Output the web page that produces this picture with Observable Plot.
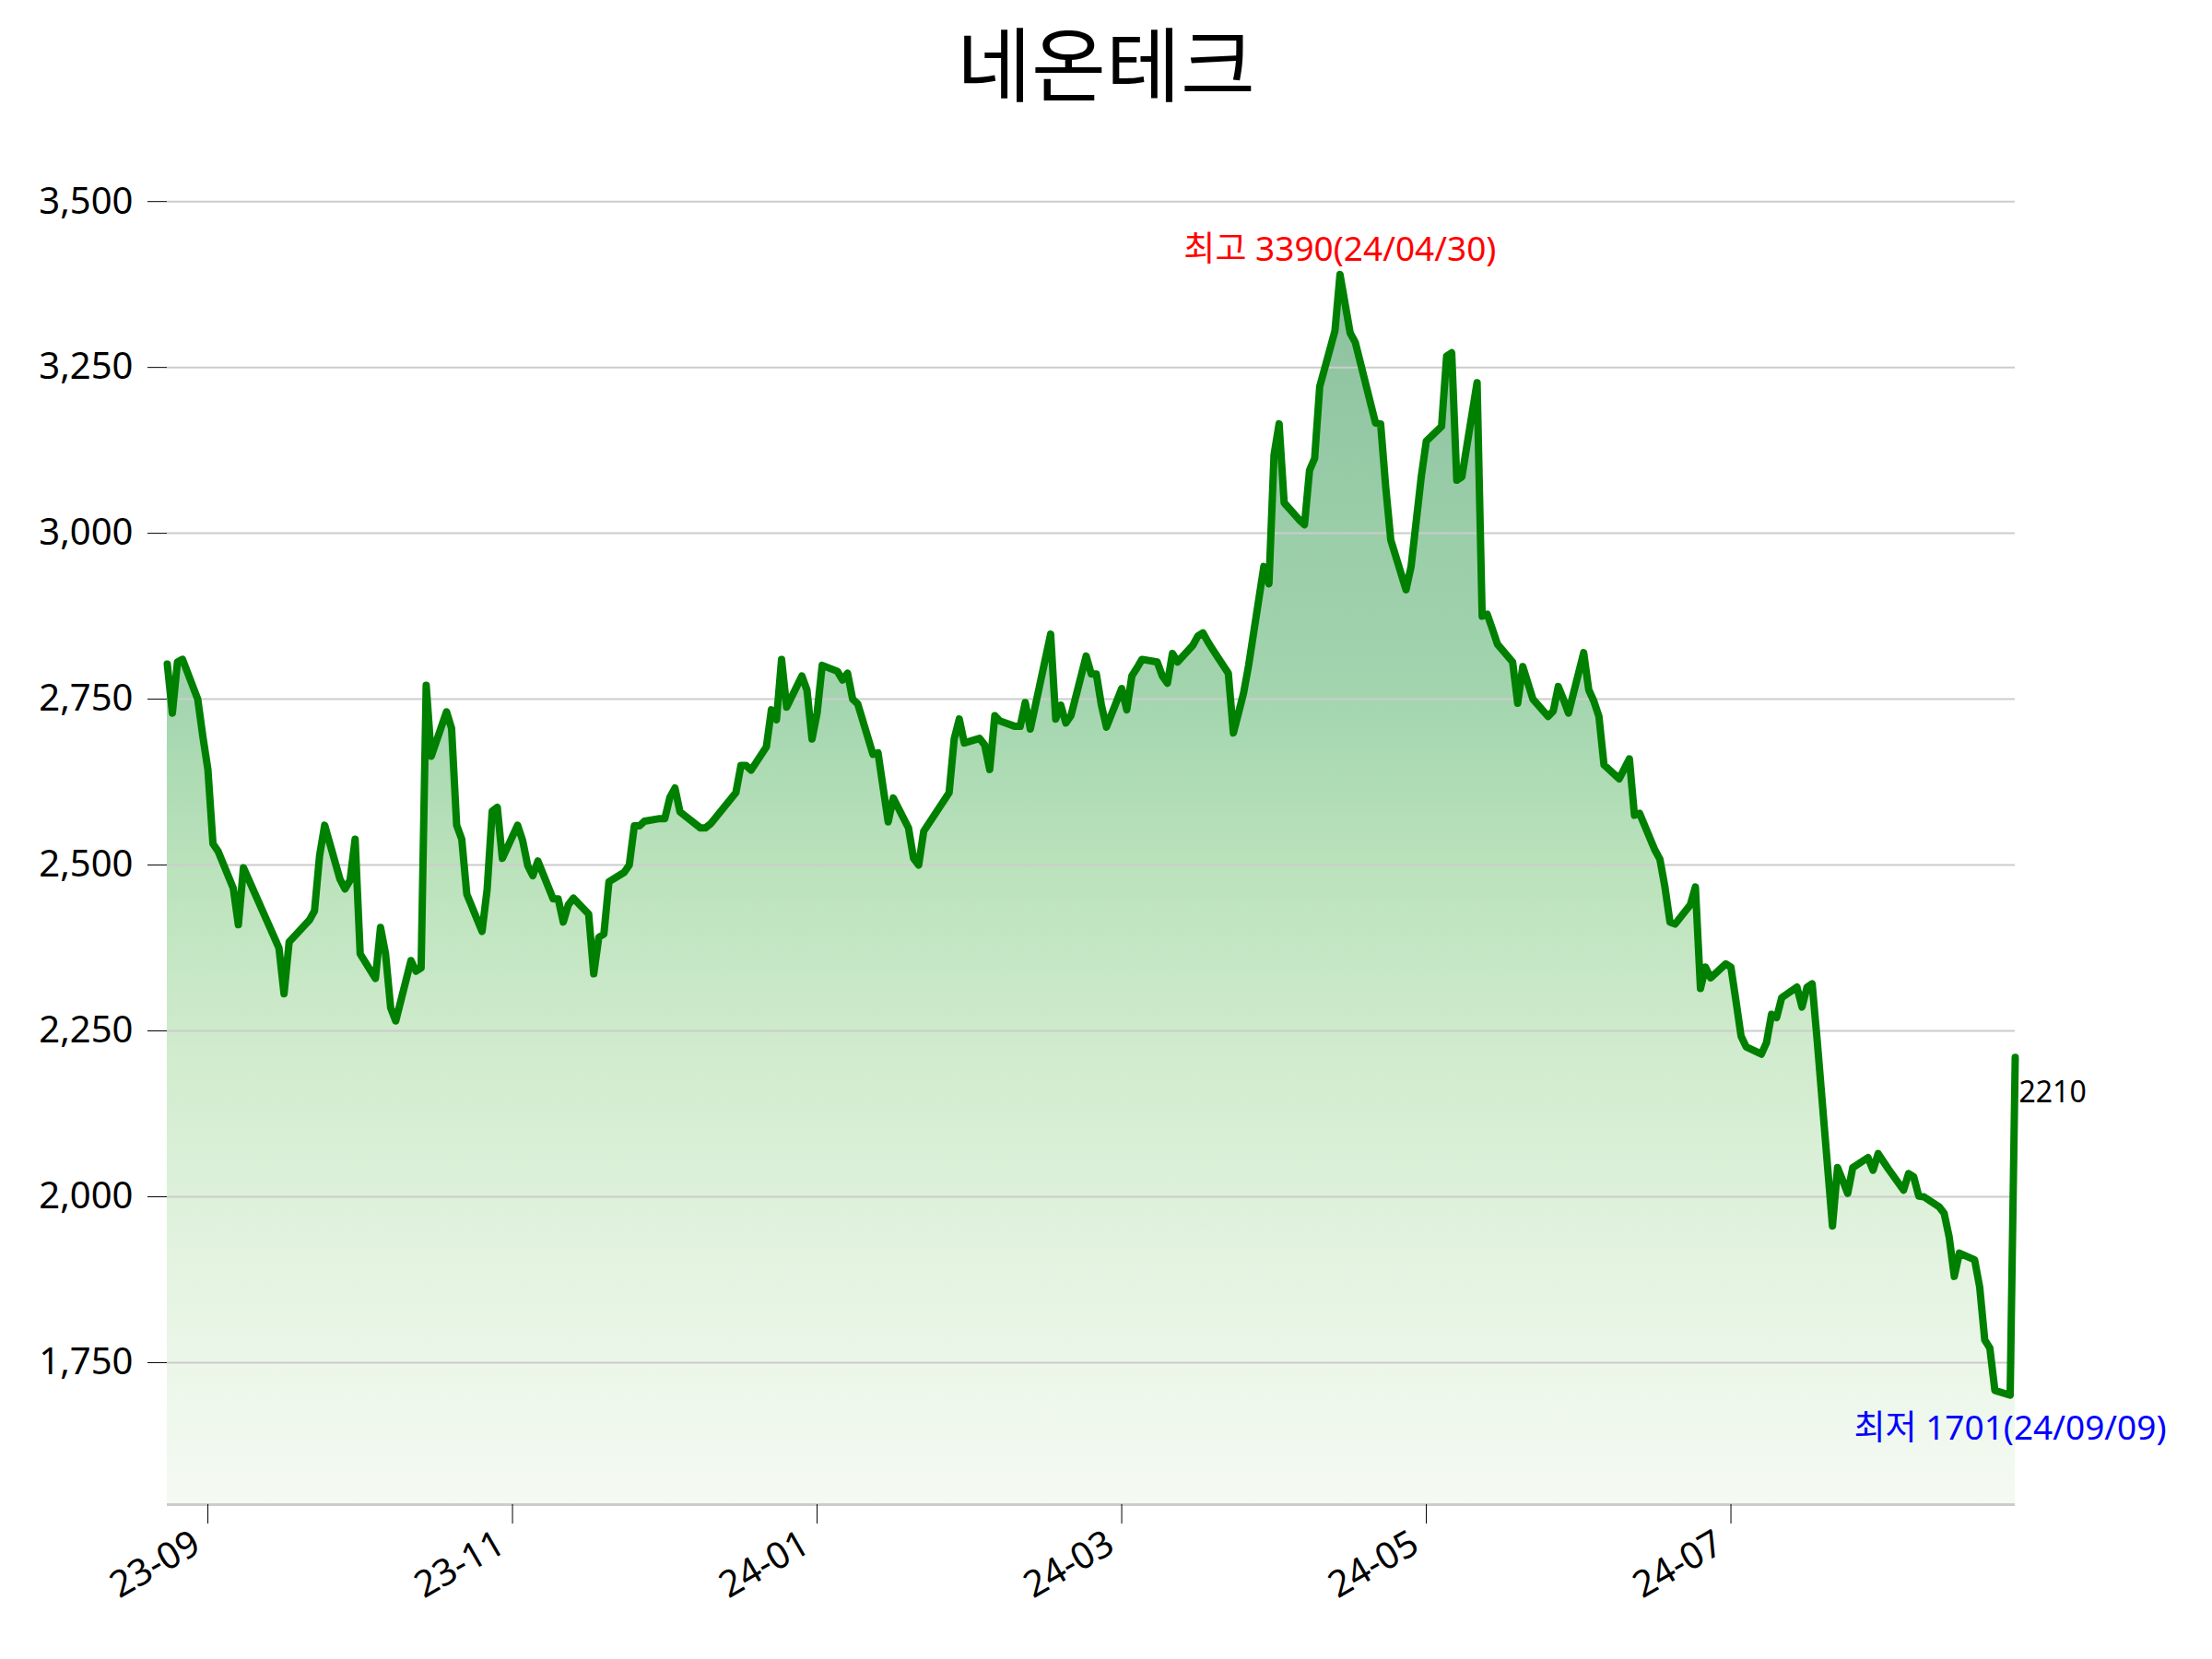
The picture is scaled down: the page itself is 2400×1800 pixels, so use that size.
<!DOCTYPE html>
<html>
<head>
<meta charset="utf-8">
<script src="https://cdn.jsdelivr.net/npm/d3@7"></script>
<script src="https://cdn.jsdelivr.net/npm/@observablehq/plot@0.6"></script>
<style>
html, body { margin: 0; padding: 0; background: #ffffff; }
#wrap { width: 2400px; height: 1800px; position: relative; font-family: "Noto Sans", "Noto Sans CJK KR", sans-serif; }
#title { height: 138px; line-height: 138px; text-align: center; font-size: 88px; color: #000; }
</style>
</head>
<body>
<div id="wrap">
  <div id="title"></div>
  <div id="chart"></div>
</div>
<script>
const chartTitle = "네온테크";

const dates = [
"2023-09-12","2023-09-13","2023-09-14","2023-09-15","2023-09-18","2023-09-19","2023-09-20","2023-09-21","2023-09-22",
"2023-09-25","2023-09-26","2023-09-27","2023-10-04","2023-10-05","2023-10-06","2023-10-10","2023-10-11","2023-10-12",
"2023-10-13","2023-10-16","2023-10-17","2023-10-18","2023-10-19","2023-10-20","2023-10-23","2023-10-24","2023-10-25",
"2023-10-26","2023-10-27","2023-10-30","2023-10-31","2023-11-01","2023-11-02","2023-11-03","2023-11-06","2023-11-07",
"2023-11-08","2023-11-09","2023-11-10","2023-11-13","2023-11-14","2023-11-15","2023-11-16","2023-11-17","2023-11-20",
"2023-11-21","2023-11-22","2023-11-23","2023-11-24","2023-11-27","2023-11-28","2023-11-29","2023-11-30","2023-12-01",
"2023-12-04","2023-12-05","2023-12-06","2023-12-07","2023-12-08","2023-12-11","2023-12-12","2023-12-13","2023-12-14",
"2023-12-15","2023-12-18","2023-12-19","2023-12-20","2023-12-21","2023-12-22","2023-12-26","2023-12-27","2023-12-28",
"2024-01-02","2024-01-03","2024-01-04","2024-01-05","2024-01-08","2024-01-09","2024-01-10","2024-01-11","2024-01-12",
"2024-01-15","2024-01-16","2024-01-17","2024-01-18","2024-01-19","2024-01-22","2024-01-23","2024-01-24","2024-01-25",
"2024-01-26","2024-01-29","2024-01-30","2024-01-31","2024-02-01","2024-02-02","2024-02-05","2024-02-06","2024-02-07",
"2024-02-08","2024-02-13","2024-02-14","2024-02-15","2024-02-16","2024-02-19","2024-02-20","2024-02-21","2024-02-22",
"2024-02-23","2024-02-26","2024-02-27","2024-02-28","2024-02-29","2024-03-04","2024-03-05","2024-03-06","2024-03-07",
"2024-03-08","2024-03-11","2024-03-12","2024-03-13","2024-03-14","2024-03-15","2024-03-18","2024-03-19","2024-03-20",
"2024-03-21","2024-03-22","2024-03-25","2024-03-26","2024-03-27","2024-03-28","2024-03-29","2024-04-01","2024-04-02",
"2024-04-03","2024-04-04","2024-04-05","2024-04-08","2024-04-09","2024-04-11","2024-04-12","2024-04-15","2024-04-16",
"2024-04-17","2024-04-18","2024-04-19","2024-04-22","2024-04-23","2024-04-24","2024-04-25","2024-04-26","2024-04-29",
"2024-04-30","2024-05-02","2024-05-03","2024-05-07","2024-05-08","2024-05-09","2024-05-10","2024-05-13","2024-05-14",
"2024-05-16","2024-05-17","2024-05-20","2024-05-21","2024-05-22","2024-05-23","2024-05-24","2024-05-27","2024-05-28",
"2024-05-29","2024-05-30","2024-05-31","2024-06-03","2024-06-04","2024-06-05","2024-06-07","2024-06-10","2024-06-11",
"2024-06-12","2024-06-13","2024-06-14","2024-06-17","2024-06-18","2024-06-19","2024-06-20","2024-06-21","2024-06-24",
"2024-06-25","2024-06-26","2024-06-27","2024-06-28","2024-07-01","2024-07-02","2024-07-03","2024-07-04","2024-07-05",
"2024-07-08","2024-07-09","2024-07-10","2024-07-11","2024-07-12","2024-07-15","2024-07-16","2024-07-17","2024-07-18",
"2024-07-19","2024-07-22","2024-07-23","2024-07-24","2024-07-25","2024-07-26","2024-07-29","2024-07-30","2024-07-31",
"2024-08-01","2024-08-02","2024-08-05","2024-08-06","2024-08-07","2024-08-08","2024-08-09","2024-08-12","2024-08-13",
"2024-08-14","2024-08-16","2024-08-19","2024-08-20","2024-08-21","2024-08-22","2024-08-23","2024-08-26","2024-08-27",
"2024-08-28","2024-08-29","2024-08-30","2024-09-02","2024-09-03","2024-09-04","2024-09-05","2024-09-06","2024-09-09",
"2024-09-10"
];

const closes = [
2803,2729,2806,2810,2750,2694,2644,2532,2521,
2465,2410,2496,2375,2306,2384,2417,2431,2514,
2560,2479,2464,2477,2539,2366,2329,2406,2366,
2285,2265,2356,2340,2345,2771,2664,2731,2706,
2560,2539,2456,2400,2463,2581,2587,2510,2560,
2537,2499,2484,2506,2449,2449,2414,2440,2450,
2426,2336,2391,2396,2475,2489,2500,2559,2559,
2566,2570,2570,2602,2616,2580,2556,2556,2562,
2609,2650,2650,2643,2678,2734,2719,2810,2738,
2785,2764,2690,2729,2801,2792,2779,2789,2750,
2743,2667,2669,2617,2565,2601,2556,2510,2500,
2551,2609,2690,2720,2684,2691,2681,2644,2725,
2717,2709,2709,2745,2705,2848,2720,2741,2714,
2725,2815,2788,2788,2741,2708,2766,2734,2785,
2797,2810,2806,2785,2774,2819,2806,2831,2845,
2850,2836,2824,2789,2699,2759,2801,2950,2924,
3118,3165,3046,3020,3013,3095,3113,3221,3305,
3390,3302,3288,3166,3165,3070,2990,2915,2950,
3085,3139,3161,3267,3272,3080,3085,3227,2875,
2878,2856,2833,2806,2744,2799,2750,2724,2732,
2769,2750,2729,2820,2764,2747,2724,2651,2630,
2645,2660,2575,2578,2523,2509,2467,2414,2411,
2440,2467,2314,2346,2330,2351,2346,2295,2242,
2226,2215,2232,2275,2270,2300,2316,2286,2316,
2321,2235,1956,2044,2025,2005,2044,2059,2040,
2065,2042,2010,2035,2030,2001,2000,1985,1975,
1939,1880,1915,1905,1864,1784,1772,1708,1701,
2210
];

const xTickDates = ["2023-09-20","2023-11-19","2024-01-18","2024-03-18","2024-05-17","2024-07-16"];
const yTicks = [1750, 2000, 2250, 2500, 2750, 3000, 3250, 3500];
const yDomain = [1536, 3560];
const highPrefix = "최고";
const lowPrefix = "최저";

document.getElementById("title").textContent = chartTitle;

const parse = d3.utcParse("%Y-%m-%d");
const data = dates.map((d, i) => ({date: parse(d), close: closes[i]}));
const fmtD = d3.utcFormat("%y/%m/%d");
const hi = d3.greatest(data, d => d.close);
const lo = d3.least(data, d => d.close);
const last = data[data.length - 1];
const xTicks = xTickDates.map(parse);

const gradient = () => {
  const ns = "http://www.w3.org/2000/svg";
  const defs = document.createElementNS(ns, "defs");
  defs.innerHTML = `<linearGradient id="fillGrad" x1="0" y1="0" x2="0" y2="1">
    <stop offset="0" stop-color="#8dc19f"/>
    <stop offset="0.34" stop-color="#a2d5ae"/>
    <stop offset="0.48" stop-color="#bae2bb"/>
    <stop offset="0.63" stop-color="#d0ebcd"/>
    <stop offset="0.82" stop-color="#e5f4e2"/>
    <stop offset="1" stop-color="#f5faf3"/>
  </linearGradient>`;
  return defs;
};

const plot = Plot.plot({
  width: 2400,
  height: 1662,
  marginLeft: 181,
  marginRight: 214,
  marginTop: 37,
  marginBottom: 168,
  style: {fontFamily: '"Noto Sans", "Noto Sans CJK KR", sans-serif', fontSize: "40px", color: "#000", background: "#fff", overflow: "visible"},
  x: {type: "utc", domain: [data[0].date, last.date]},
  y: {domain: yDomain},
  marks: [
    gradient,
    Plot.areaY(data, {x: "date", y1: yDomain[0], y2: "close", fill: "url(#fillGrad)"}),
    Plot.gridY(yTicks, {stroke: "#cccccc", strokeOpacity: 1, strokeWidth: 2}),
    Plot.ruleY([yDomain[0]], {stroke: "#cccccc", strokeWidth: 3}),
    Plot.lineY(data, {x: "date", y: "close", stroke: "#008000", strokeWidth: 8, strokeLinejoin: "round"}),
    Plot.axisY({ticks: yTicks, tickFormat: d3.format(","), tickSize: 21, tickPadding: 16, label: null, fontSize: 40}),
    Plot.axisX({ticks: xTicks, tickFormat: () => "", tickSize: 21, label: null}),
    Plot.axisX({ticks: xTicks, tickFormat: d3.utcFormat("%y-%m"), tickRotate: -30, tickSize: 0, tickPadding: 31, label: null, fontSize: 40, dx: -12, dy: 8}),
    Plot.text([hi], {x: "date", y: "close", text: d => `${highPrefix} ${d.close}(${fmtD(d.date)})`, fill: "#ff0000", fontSize: 37, dy: -27, textAnchor: "middle"}),
    Plot.text([lo], {x: "date", y: "close", text: d => `${lowPrefix} ${d.close}(${fmtD(d.date)})`, fill: "#0000ff", fontSize: 37, dy: 36, textAnchor: "middle"}),
    Plot.text([last], {x: "date", y: "close", text: d => `${d.close}`, fill: "#000000", fontSize: 32, dx: 4, dy: 38, textAnchor: "start"})
  ]
});
document.getElementById("chart").appendChild(plot);
</script>
</body>
</html>
